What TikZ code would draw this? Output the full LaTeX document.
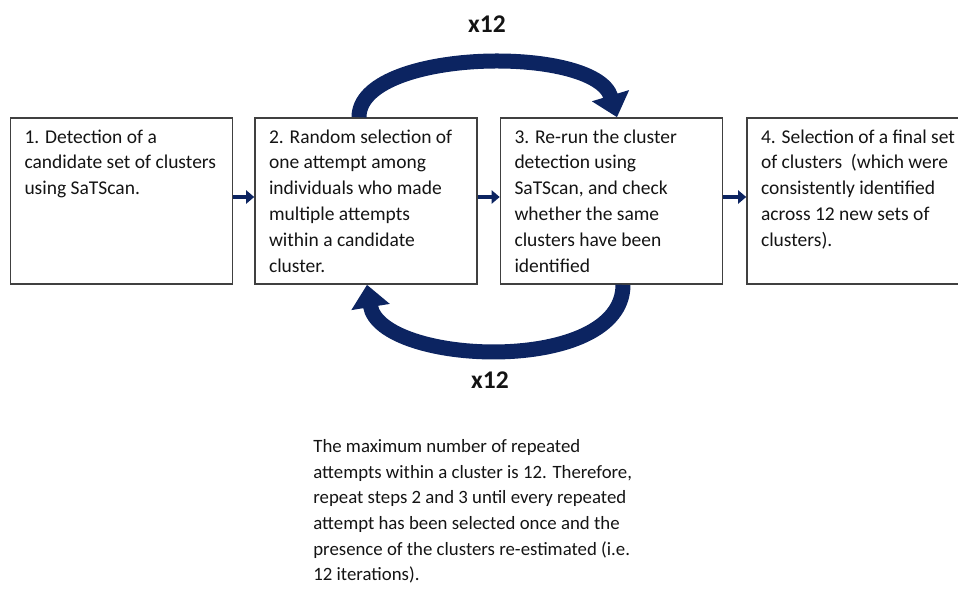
\documentclass[tikz,border=0pt]{standalone}
\usepackage{fontspec}
\setmainfont{Carlito}
\usepackage{tikz}
\usetikzlibrary{arrows.meta}
\definecolor{arrowblue}{RGB}{12,36,97}
\definecolor{boxgrey}{RGB}{64,64,64}
\definecolor{textgrey}{RGB}{20,20,20}
\newcommand{\steptext}[1]{\parbox[c][3.32cm][t]{3.88cm}{\raggedright\rule{0pt}{5mm}#1}}
\tikzset{
	stepbox/.style={draw=boxgrey,line width=0.9pt,inner xsep=0.28cm,inner ysep=0pt,minimum width=4.44cm,minimum height=3.32cm,text=textgrey},
	smallarrow/.style={draw=arrowblue,line width=2.2pt,-{Triangle[length=1.6mm,width=2.6mm]}},
	looparrow/.style={draw=arrowblue,line width=0.3cm,-{Triangle[length=0.45cm,width=0.75cm]}},
	repeatlabel/.style={font=\fontsize{14.5}{16}\selectfont\bfseries,text=textgrey,inner sep=0pt}
}

\begin{document}
\begin{tikzpicture}[font=\fontsize{11.1}{14.74}\selectfont]
	\useasboundingbox (0,0) rectangle (19.16,-11.8);
	\clip (0,0) rectangle (19.16,-11.8);
	\node[stepbox] (detect) at (2.43,-4.02) {\steptext{1. Detection of a\\candidate set of clusters\\using SaTScan.}};
	\node[stepbox] (select) at (7.32,-4.02) {\steptext{2. Random selection of\\one attempt among\\individuals who made\\multiple attempts\\within a candidate\\cluster.}};
	\node[stepbox] (rerun) at (12.23,-4.02) {\steptext{3. Re-run the cluster\\detection using\\SaTScan, and check\\whether the same\\clusters have been\\identified}};
	\node[stepbox] (final) at (17.16,-4.02) {\steptext{4. Selection of a final set\\of clusters\ \ (which were\\consistently identified\\across 12 new sets of\\clusters).}};
	\draw[smallarrow] ([yshift=0.08cm]detect.east)--([yshift=0.08cm]select.west);
	\draw[smallarrow] ([yshift=0.08cm]select.east)--([yshift=0.08cm]rerun.west);
	\draw[smallarrow] ([yshift=0.08cm]rerun.east)--([yshift=0.08cm]final.west);
	% the two repeat loops
	\draw[looparrow] ([xshift=-0.14cm]select.north) .. controls +(0,1.38) and +(-0.44,1.46) .. ([xshift=0.11cm]rerun.north);
	\draw[looparrow] ([xshift=0.23cm]rerun.south) .. controls +(0,-1.82) and +(0.26,-1.62) .. ([xshift=0.02cm]select.south);
	\node[repeatlabel] (toprep) at (9.74,-0.48) {x12};
	\node[repeatlabel] (botrep) at (9.8,-7.6) {x12};
	\node[anchor=north west,align=left,inner sep=0pt,text=textgrey,font=\fontsize{10.7}{14.6}\selectfont] (note) at (6.26,-8.78) {The maximum number of repeated\\attempts within a cluster is 12. Therefore,\\repeat steps 2 and 3 until every repeated\\attempt has been selected once and the\\presence of the clusters re-estimated (i.e.\\12 iterations).};
\end{tikzpicture}
\end{document}
